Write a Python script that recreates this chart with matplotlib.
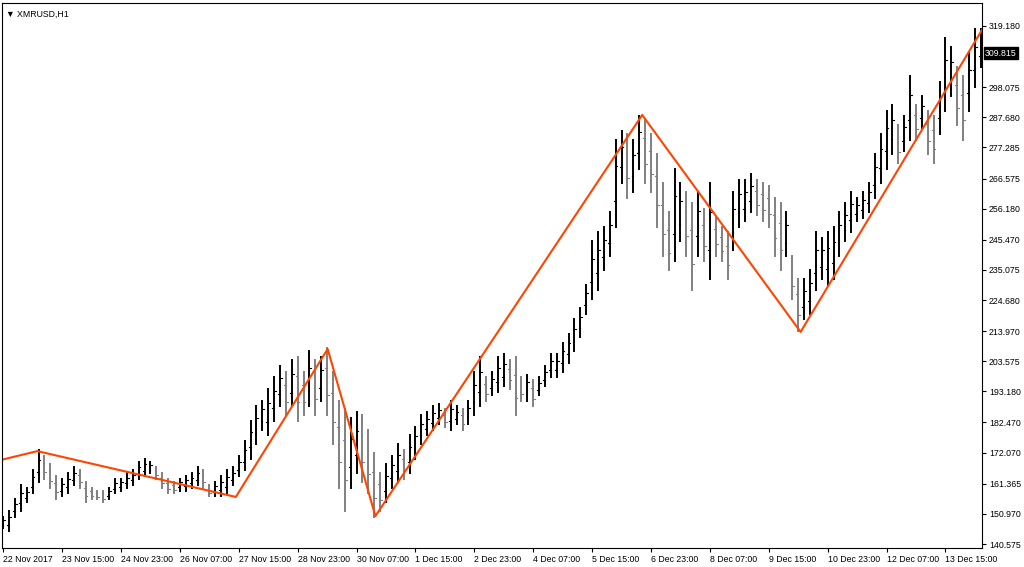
import matplotlib.pyplot as plt
import numpy as np

plt.rcParams["font.family"] = ["Liberation Sans", "DejaVu Sans"]

lows = [146, 145, 150, 152, 155, 158, 162, 163, 160, 156, 157,
        158, 161, 160, 155, 156, 156, 155, 156, 158, 159,
        160, 161, 163, 164, 165, 163, 160, 158, 158, 159,
        159, 160, 161, 160, 157, 157, 157, 158, 161, 164,
        166, 170, 175, 180, 178, 183, 188, 185, 188, 183,
        185, 188, 185, 190, 185, 175, 160, 152, 160, 165,
        162, 158, 150, 152, 155, 160, 162, 163, 165, 170,
        175, 178, 180, 182, 181, 180, 182, 180, 182, 185,
        188, 190, 192, 193, 195, 194, 185, 190, 190, 188,
        192, 195, 198, 198, 200, 203, 207, 212, 220, 225,
        228, 235, 240, 250, 265, 260, 262, 270, 265, 262,
        250, 240, 235, 238, 245, 240, 228, 240, 238, 232,
        240, 238, 232, 242, 250, 252, 255, 254, 252, 250,
        240, 235, 240, 225, 214, 218, 220, 228, 232, 230,
        232, 240, 245, 248, 252, 253, 255, 260, 265, 270,
        275, 272, 276, 280, 280, 284, 275, 272, 282, 290,
        295, 285, 280, 290, 298, 305]
highs = [150, 152, 156, 161, 160, 166, 173, 171, 168, 164, 163,
         165, 167, 166, 162, 160, 159, 159, 160, 163, 163,
         165, 166, 169, 170, 169, 167, 165, 163, 162, 163,
         164, 165, 167, 166, 161, 162, 164, 166, 167, 171,
         176, 183, 188, 190, 194, 198, 202, 200, 204, 205,
         200, 207, 204, 205, 208, 200, 190, 187, 184, 186,
         185, 180, 172, 165, 168, 171, 175, 173, 178, 181,
         185, 186, 188, 189, 187, 190, 188, 187, 190, 200,
         205, 198, 200, 205, 206, 204, 205, 198, 199, 197,
         198, 202, 206, 206, 210, 213, 218, 222, 230, 245,
         248, 250, 255, 280, 283, 282, 280, 288, 287, 282,
         275, 265, 255, 270, 265, 262, 258, 262, 256, 265,
         253, 250, 248, 262, 266, 266, 268, 266, 265, 264,
         260, 258, 255, 240, 232, 232, 235, 248, 246, 248,
         250, 255, 258, 262, 260, 262, 265, 275, 282, 290,
         292, 285, 288, 302, 292, 295, 290, 288, 300, 315,
         312, 305, 302, 310, 318, 318]

# zigzag pivots (bar index, price)
zz_x = [-0.5, 5.8, 39.5, 55.1, 63.2, 108.5, 135.4, 166.4]
zz_y = [169.5, 172.6, 156.8, 207.8, 150.2, 288.5, 213.7, 318.5]

tick_labels = ["22 Nov 2017", "23 Nov 15:00", "24 Nov 23:00", "26 Nov 07:00",
               "27 Nov 15:00", "28 Nov 23:00", "30 Nov 07:00", "1 Dec 15:00",
               "2 Dec 23:00", "4 Dec 07:00", "5 Dec 15:00", "6 Dec 23:00",
               "8 Dec 07:00", "9 Dec 15:00", "10 Dec 23:00", "12 Dec 07:00",
               "13 Dec 15:00"]
price_ticks = [319.180, 298.075, 287.680, 277.285, 266.575, 256.180, 245.470,
               235.075, 224.680, 213.970, 203.575, 193.180, 182.470, 172.070,
               161.365, 150.970, 140.575]
last_price = 309.815

fig = plt.figure(figsize=(10.24, 5.67), dpi=100)
ax = fig.add_axes([2 / 1024, 19 / 567, 980 / 1024, 545 / 567])

lows = np.array(lows, float)
highs = np.array(highs, float)
x = np.arange(len(lows))
mid = (lows + highs) / 2
for i in x:
    up = i == 0 or mid[i] >= mid[i - 1]
    col = "black" if up else "#808080"
    o = lows[i] + (highs[i] - lows[i]) * (0.3 if up else 0.7)
    c = lows[i] + (highs[i] - lows[i]) * (0.7 if up else 0.3)
    ax.plot([i, i], [lows[i], highs[i]], color=col, lw=1.4)
    ax.plot([i - 0.3, i], [o, o], color=col, lw=0.8)
    ax.plot([i, i + 0.3], [c, c], color=col, lw=0.8)

ax.plot(zz_x, zz_y, color="#ff4500", lw=1.5)

ax.set_xlim(-0.2, 166.2)
ax.set_ylim(139.2, 327.1)
ax.yaxis.tick_right()
ax.set_yticks(price_ticks)
ax.set_yticklabels([f"{p:.3f}" for p in price_ticks], fontsize=6.3)
ax.set_xticks(np.arange(len(tick_labels)) * 10)
ax.set_xticklabels(tick_labels, fontsize=6.3, ha="left")
ax.tick_params(length=3, width=0.8, pad=2)

ax.text(1.003, (last_price - 139.2) / (327.1 - 139.2), f"{last_price:.3f}",
        transform=ax.transAxes, fontsize=6.3, color="white", va="center",
        ha="left", bbox=dict(boxstyle="square,pad=0.15", fc="black", ec="black"))
ax.text(0.004, 0.987, "\u25bc XMRUSD,H1", transform=ax.transAxes,
        fontsize=6.3, va="top", ha="left")

plt.savefig("out.png", dpi=100)
